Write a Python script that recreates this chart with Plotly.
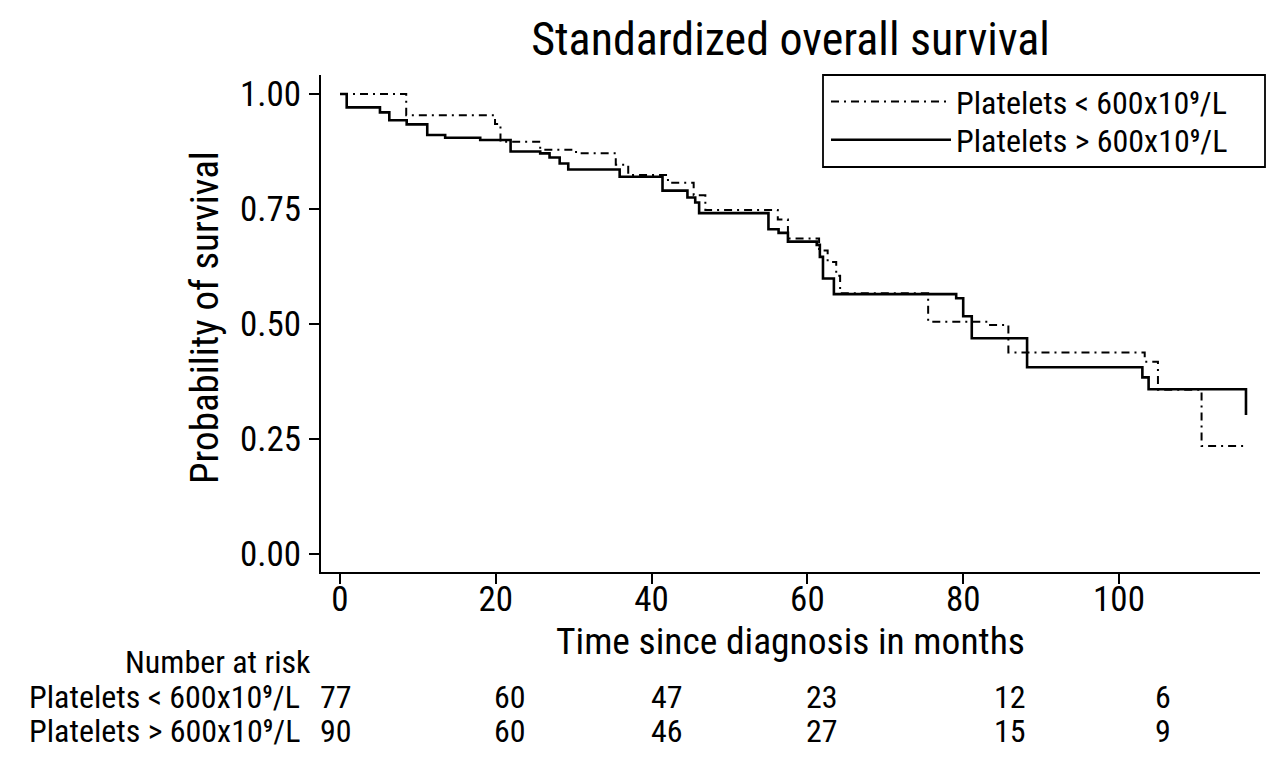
import plotly.graph_objects as go

# ---------------- data ----------------
title_text = "Standardized overall survival"
x_title = "Time since diagnosis in months"
y_title = "Probability of survival"

group_low = "Platelets < 600x10⁹/L"
group_high = "Platelets > 600x10⁹/L"

# Kaplan-Meier steps (time in months, survival after the step)
low_time = [0, 8.5, 19.9, 20.6, 25.7, 30.3, 35.4, 37.0, 42.1, 45.4, 46.9, 56.2,
            57.5, 61.5, 62.6, 63.7, 64.2, 75.5, 83.2, 85.8, 103.3, 105.0, 110.6, 116.4]
low_surv = [1.0, 0.954, 0.935, 0.896, 0.879, 0.871, 0.846, 0.824, 0.807, 0.780, 0.748, 0.727,
            0.686, 0.660, 0.635, 0.605, 0.567, 0.505, 0.498, 0.438, 0.418, 0.357, 0.235, 0.235]

high_time = [0, 0.86, 5.13, 6.33, 8.56, 11.2, 13.5, 18.0, 21.9, 25.7, 26.9, 28.2, 29.3,
             35.9, 41.4, 44.6, 45.6, 46.1, 55.0, 56.3, 57.5, 61.2, 61.6, 62.0, 63.4,
             79.1, 80.0, 81.1, 88.2, 103.0, 103.8, 116.3]
high_surv = [1.0, 0.971, 0.960, 0.943, 0.934, 0.911, 0.905, 0.900, 0.875, 0.871, 0.862, 0.849, 0.836,
             0.820, 0.790, 0.775, 0.764, 0.741, 0.706, 0.698, 0.679, 0.672, 0.646, 0.599, 0.565,
             0.556, 0.517, 0.469, 0.406, 0.384, 0.358, 0.302]

x_ticks = [0, 20, 40, 60, 80, 100]
y_ticks = [0, 0.25, 0.5, 0.75, 1.0]

risk_header = "Number at risk"
risk_row_labels = ["Platelets < 600x10⁹/L", "Platelets > 600x10⁹/L"]
risk_low = [77, 60, 47, 23, 12, 6]
risk_high = [90, 60, 46, 27, 15, 9]

# ---------------- layout (page pixels; the page body adds an 8px margin) ----------------
PAGE_OFF = 8
W, H = 1280 - PAGE_OFF, 763 - PAGE_OFF
L, R, T, B = 321, 1260, 75, 572          # plot area in page pixels
FONT = "Roboto Condensed, Liberation Sans Narrow, Arial Narrow, Liberation Sans, sans-serif"
risk_cols_px = [336, 510, 667, 822, 1010, 1163]
risk_rows_px = [697, 731]
risk_header_px = (218, 662)
risk_label_x_px = 27
TABLE_SIZE = 32
TICK_SIZE = 35
AXIS_TITLE_SIZE = 37.5
LEGEND_BOX = (823, 75, 1265, 167)        # x0, y0, x1, y1 page pixels
LEGEND_ROWS = [101.7, 140]
LEGEND_X = 826


def px_x(px):
    return (px - L) / (R - L)


def px_y(py):
    return (B - py) / (B - T)


fig = go.Figure()
fig.add_trace(go.Scatter(
    x=low_time, y=low_surv, mode="lines", name=group_low, legend="legend",
    line=dict(color="black", width=2, dash="8px,5px,2px,5px", shape="hv"),
))
fig.add_trace(go.Scatter(
    x=high_time, y=high_surv, mode="lines", name=group_high, legend="legend2",
    line=dict(color="black", width=2.6, shape="hv"),
))

tfont = dict(size=TABLE_SIZE, color="black", family=FONT)
annotations = [
    dict(text=x_title, x=0.5, y=px_y(641), xref="paper", yref="paper",
         xanchor="center", yanchor="middle", showarrow=False,
         font=dict(size=AXIS_TITLE_SIZE, color="black", family=FONT)),
    dict(text=y_title, x=px_x(205), y=px_y(318), xref="paper", yref="paper", textangle=-90,
         xanchor="center", yanchor="middle", showarrow=False,
         font=dict(size=39, color="black", family=FONT)),
    dict(text=risk_header, x=px_x(risk_header_px[0]), y=px_y(risk_header_px[1]),
         xref="paper", yref="paper", xanchor="center", yanchor="middle", showarrow=False,
         height=34, font=tfont),
]
for label, counts, py in zip(risk_row_labels, [risk_low, risk_high], risk_rows_px):
    annotations.append(dict(text=label, x=px_x(risk_label_x_px), y=px_y(py), xref="paper", yref="paper",
                            xanchor="left", yanchor="middle", showarrow=False, height=34, font=tfont))
    for c, cx in zip(counts, risk_cols_px):
        annotations.append(dict(text=str(c), x=px_x(cx), y=px_y(py), xref="paper", yref="paper",
                                xanchor="center", yanchor="middle", showarrow=False, height=34,
                                font=tfont))

legend_common = dict(xanchor="left", yanchor="middle", borderwidth=0, bgcolor="rgba(0,0,0,0)",
                     font=dict(size=32, color="black", family=FONT), itemwidth=120)

fig.update_layout(
    width=W, height=H,
    margin=dict(l=L - PAGE_OFF, r=W - (R - PAGE_OFF), t=T - PAGE_OFF, b=H - (B - PAGE_OFF),
                pad=0, autoexpand=False),
    paper_bgcolor="white", plot_bgcolor="white",
    font=dict(family=FONT, color="black"),
    title=dict(text=title_text, x=0.5, xref="paper", xanchor="center",
               y=1 - (38.5 - PAGE_OFF) / H, yref="container", yanchor="middle",
               font=dict(size=46, color="black", family=FONT)),
    showlegend=True,
    legend=dict(x=px_x(LEGEND_X), y=px_y(LEGEND_ROWS[0]), **legend_common),
    legend2=dict(x=px_x(LEGEND_X), y=px_y(LEGEND_ROWS[1]), **legend_common),
    shapes=[dict(type="rect", xref="paper", yref="paper",
                 x0=px_x(LEGEND_BOX[0]), x1=px_x(LEGEND_BOX[2]),
                 y0=px_y(LEGEND_BOX[1]), y1=px_y(LEGEND_BOX[3]),
                 line=dict(color="black", width=1.8), fillcolor="white", layer="above")],
    annotations=annotations,
)
fig.update_xaxes(
    range=[(L - 340) / 7.79, (R - 340) / 7.79], automargin=False,
    tickvals=x_ticks, ticks="outside", ticklen=10, tickwidth=2, tickcolor="black",
    showline=True, linecolor="black", linewidth=2, showgrid=False, zeroline=False,
    tickfont=dict(size=TICK_SIZE, color="black", family=FONT), ticklabelstandoff=-15,
)
fig.update_yaxes(
    range=[(554 - B) / 460, (554 - T) / 460], automargin=False,
    tickvals=y_ticks, tickformat=".2f", ticks="outside", ticklen=10, tickwidth=2, tickcolor="black",
    showline=True, linecolor="black", linewidth=2, showgrid=False, zeroline=False,
    tickfont=dict(size=TICK_SIZE, color="black", family=FONT), ticklabelstandoff=1,
)

fig.write_html("out.html")
